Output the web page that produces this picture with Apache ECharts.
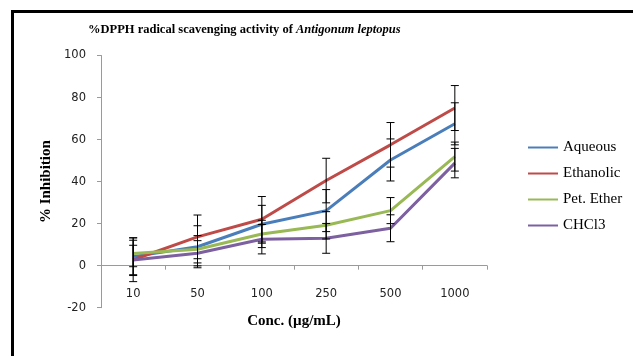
<!DOCTYPE html>
<html>
<head>
<meta charset="utf-8">
<script src="https://cdn.jsdelivr.net/npm/echarts@6/dist/echarts.min.js"></script>
<style>
html,body{margin:0;padding:0;background:#fff;}
#chart{width:633px;height:356px;}
</style>
</head>
<body>
<div id="chart"></div>
<script>
var categories = ['10', '50', '100', '250', '500', '1000'];
var seriesNames = ['Aqueous', 'Ethanolic', 'Pet. Ether', 'CHCl3'];
var aqueous = [4.3, 9.0, 19.7, 26.2, 50.3, 67.5];
var ethanolic = [2.8, 13.7, 22.1, 40.5, 57.5, 75.0];
var petEther = [5.8, 7.8, 15.1, 19.2, 26.2, 51.9];
var chcl3 = [2.7, 5.9, 12.6, 13.0, 17.8, 48.8];
var aqueousErr = [9.0, 10.0, 9.0, 10.0, 10.0, 10.0];
var ethanolicErr = [10.4, 10.4, 10.8, 10.6, 10.6, 10.7];
var petEtherErr = [6.3, 6.5, 6.5, 6.5, 6.2, 6.9];
var chcl3Err = [7.0, 6.0, 7.0, 7.1, 6.4, 7.0];
var yTicks = {min: -20, max: 100, interval: 20};

var colors = ['#4A7EBB', '#BE4B48', '#98B954', '#7D60A0'];
var values = [aqueous, ethanolic, petEther, chcl3];
var errs = [aqueousErr, ethanolicErr, petEtherErr, chcl3Err];

var chart = echarts.init(document.getElementById('chart'));
var series = [];
values.forEach(function (vals, s) {
  series.push({
    name: seriesNames[s], type: 'line', data: vals, symbol: 'none',
    lineStyle: {width: 3, color: colors[s]}, itemStyle: {color: colors[s]}, z: 2
  });
});
values.forEach(function (vals, s) {
  series.push({
    type: 'custom', z: 3, silent: true,
    data: vals.map(function (v, i) { return [i, v - errs[s][i], v + errs[s][i]]; }),
    renderItem: function (params, api) {
      var lo = api.coord([api.value(0), api.value(1)]);
      var hi = api.coord([api.value(0), api.value(2)]);
      var hw = 4;
      var st = {stroke: '#000', lineWidth: 1};
      return {type: 'group', children: [
        {type: 'line', shape: {x1: lo[0], y1: lo[1], x2: hi[0], y2: hi[1]}, style: st},
        {type: 'line', shape: {x1: lo[0] - hw, y1: lo[1], x2: lo[0] + hw, y2: lo[1]}, style: st},
        {type: 'line', shape: {x1: hi[0] - hw, y1: hi[1], x2: hi[0] + hw, y2: hi[1]}, style: st}
      ]};
    }
  });
});

chart.setOption({
  animation: false,
  backgroundColor: '#fff',
  color: colors,
  title: {
    text: '{b|%DPPH radical scavenging activity of }{i|Antigonum leptopus}',
    left: 83, top: 18,
    textStyle: {
      rich: {
        b: {fontFamily: 'Liberation Serif', fontWeight: 'bold', fontSize: 12.5, color: '#000'},
        i: {fontFamily: 'Liberation Serif', fontWeight: 'bold', fontStyle: 'italic', fontSize: 12.5, color: '#000'}
      }
    }
  },
  legend: {
    orient: 'vertical', left: 523, top: 135,
    data: seriesNames,
    icon: 'rect', itemWidth: 30, itemHeight: 2, itemGap: 11,
    textStyle: {fontFamily: 'Liberation Serif', fontSize: 15, color: '#000'}
  },
  grid: {left: 101, right: 146, top: 55.5, bottom: 48.3, outerBoundsMode: 'none', containLabel: false},
  xAxis: {
    type: 'category', data: categories,
    name: 'Conc. (µg/mL)', nameLocation: 'middle', nameGap: 6,
    nameTextStyle: {fontFamily: 'Liberation Serif', fontWeight: 'bold', fontSize: 15, color: '#000'},
    axisLine: {onZero: true, lineStyle: {color: '#9a9a9a', width: 1}},
    axisTick: {show: true, length: 4, lineStyle: {color: '#9a9a9a'}},
    axisLabel: {margin: -20, fontFamily: 'DejaVu Sans', fontSize: 11.5, color: '#222'},
    splitLine: {show: false}
  },
  yAxis: {
    type: 'value', min: yTicks.min, max: yTicks.max, interval: yTicks.interval,
    name: '% Inhibition', nameLocation: 'middle', nameGap: 45, nameRotate: 90,
    nameTextStyle: {fontFamily: 'Liberation Serif', fontWeight: 'bold', fontSize: 15, color: '#000'},
    axisLine: {show: true, lineStyle: {color: '#9a9a9a', width: 1}},
    axisTick: {show: true, length: 4, lineStyle: {color: '#9a9a9a'}},
    axisLabel: {margin: 15, fontFamily: 'DejaVu Sans', fontSize: 11.5, color: '#222'},
    splitLine: {show: false}
  },
  graphic: [
    {type: 'rect', shape: {x: 11, y: 10, width: 622, height: 3}, style: {fill: '#000'}},
    {type: 'rect', shape: {x: 11, y: 10, width: 3, height: 346}, style: {fill: '#000'}}
  ],
  series: series
});
</script>
</body>
</html>
